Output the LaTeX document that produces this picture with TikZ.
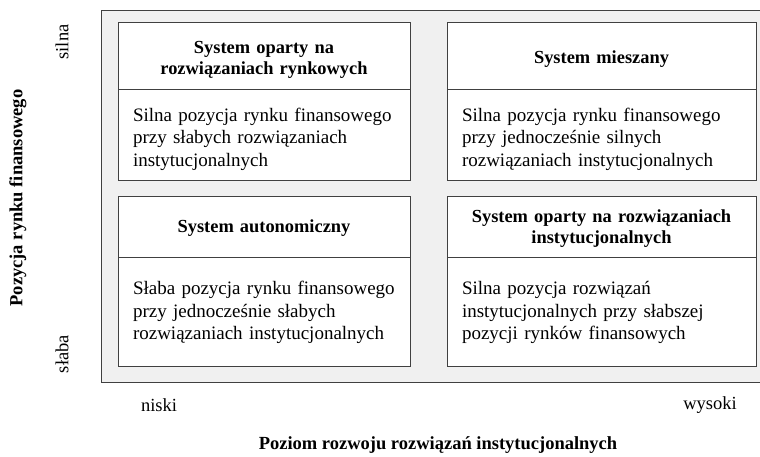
\documentclass[tikz,border=0pt]{standalone}
\usepackage{fontspec}
\setmainfont{Liberation Serif}
\begin{document}
\begin{tikzpicture}[x=1pt,y=-1pt,
  lc/.style={draw=black!75,line width=0.9pt},
  cell/.style={lc,fill=white,inner sep=0pt},
  hdr/.style={inner sep=0pt,align=center,
    font=\fontsize{18.4}{21.5}\selectfont\bfseries},
  bdy/.style={inner sep=0pt,align=left,
    font=\fontsize{19}{22.5}\selectfont},
  axl/.style={inner sep=0pt,font=\fontsize{18.5}{21}\selectfont},
  axt/.style={inner sep=0pt,font=\fontsize{18.5}{21}\selectfont\bfseries}]
\useasboundingbox (0,0) rectangle (760,456);
\node[lc,fill=black!6,minimum width=660pt,minimum height=372pt,inner sep=0pt] (bg) at (431,196) {};
% boxes
\node[cell,minimum width=292pt,minimum height=67pt] (h1) at (264,55.5) {};
\node[cell,minimum width=292pt,minimum height=91pt] (b1) at (264,134.5) {};
\node[cell,minimum width=309pt,minimum height=67pt] (h2) at (601.5,55.5) {};
\node[cell,minimum width=309pt,minimum height=91pt] (b2) at (601.5,134.5) {};
\node[cell,minimum width=292pt,minimum height=61pt] (h3) at (264,226.5) {};
\node[cell,minimum width=292pt,minimum height=109pt] (b3) at (264,311.5) {};
\node[cell,minimum width=309pt,minimum height=61pt] (h4) at (601.5,226.5) {};
\node[cell,minimum width=309pt,minimum height=109pt] (b4) at (601.5,311.5) {};
% texts
\node[hdr,text width=268pt] (h1t) at ([yshift=-4.5pt]h1.center) {System oparty na\\rozwiązaniach rynkowych};
\node[bdy,text width=262pt] (b1t) at ([yshift=-4.5pt]b1.center) {Silna pozycja rynku finansowego\\przy słabych rozwiązaniach\\instytucjonalnych};
\node[hdr,text width=285pt] (h2t) at ([yshift=-4pt]h2.center) {System mieszany};
\node[bdy,text width=279pt] (b2t) at ([yshift=-4.5pt]b2.center) {Silna pozycja rynku finansowego\\przy jednocześnie silnych\\rozwiązaniach instytucjonalnych};
\node[hdr,text width=268pt] (h3t) at ([yshift=-2pt]h3.center) {System autonomiczny};
\node[bdy,text width=262pt] (b3t) at ([yshift=-1pt]b3.center) {Słaba pozycja rynku finansowego\\przy jednocześnie słabych\\rozwiązaniach instytucjonalnych};
\node[hdr,text width=285pt] (h4t) at ([yshift=-2pt]h4.center) {System oparty na rozwiązaniach\\instytucjonalnych};
\node[bdy,text width=279pt] (b4t) at ([yshift=-1pt]b4.center) {Silna pozycja rozwiązań\\instytucjonalnych przy słabszej\\pozycji rynków finansowych};
% axes labels
\node[axl,rotate=90] (silna) at (62,42) {silna};
\node[axl,rotate=90] (slaba) at (62,354) {słaba};
\node[axt,rotate=90] (ytitle) at (18,198) {Pozycja rynku finansowego};
\node[axl] (niski) at (159,405) {niski};
\node[axl] (wysoki) at (710,405) {wysoki};
\node[axt] (xtitle) at (438,445) {Poziom rozwoju rozwiązań instytucjonalnych};
\end{tikzpicture}
\end{document}
